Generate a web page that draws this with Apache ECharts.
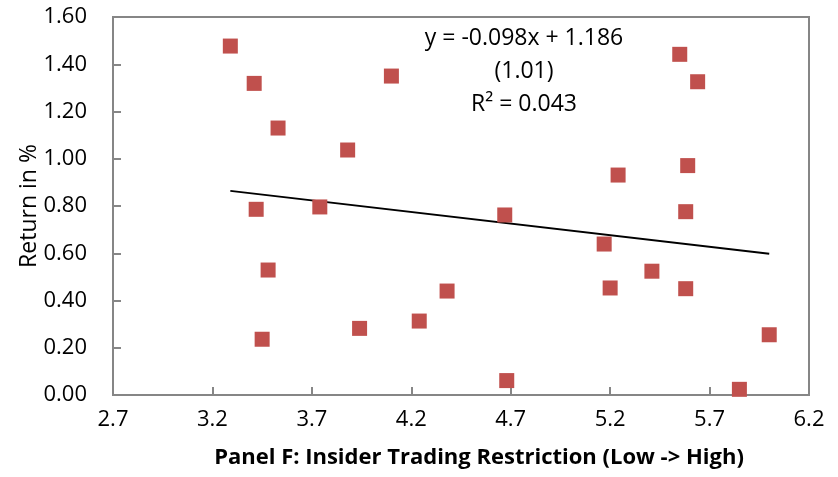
<!DOCTYPE html>
<html>
<head>
<meta charset="utf-8">
<script src="https://cdn.jsdelivr.net/npm/echarts@6/dist/echarts.min.js"></script>
<style>
  html, body { margin: 0; padding: 0; background: #fff; }
  #chart { width: 838px; height: 477px; }
</style>
</head>
<body>
<div id="chart"></div>
<script>
// insider trading restriction score vs. return (%)
const restriction = [3.29, 3.41, 3.53, 3.88, 4.10, 3.42, 3.74, 5.55, 5.64, 5.59, 5.24, 5.58, 4.67,
  3.48, 3.45, 3.94, 4.24, 4.38, 4.68, 5.17, 5.20, 5.41, 5.58, 6.00, 5.85]
const returns = [1.477, 1.319, 1.130, 1.037, 1.350, 0.786, 0.796, 1.442, 1.326, 0.971, 0.931, 0.776, 0.762,
  0.529, 0.236, 0.282, 0.313, 0.440, 0.061, 0.639, 0.453, 0.524, 0.450, 0.255, 0.024]
// fitted line end points
const trendX = [3.29, 6.00]
const trendY = [0.864, 0.598]
const eqLines = ['y = -0.098x + 1.186', '(1.01)', 'R² = 0.043']

const chart = echarts.init(document.getElementById('chart'))
const axisGray = '#868686'
const font = '"Open Sans", sans-serif'

chart.setOption({
  animation: false,
  grid: { left: 113, right: 29, top: 17, bottom: 82 },
  xAxis: {
    type: 'value',
    min: 2.7,
    max: 6.2,
    interval: 0.5,
    name: 'Panel F: Insider Trading Restriction (Low -> High)',
    nameLocation: 'middle',
    nameGap: 52,
    nameTextStyle: { color: '#000', fontFamily: font, fontWeight: 'bold', fontSize: 22,
      padding: [0, 0, 0, 36] },
    axisLine: { show: true, lineStyle: { color: axisGray, width: 2 } },
    axisTick: { show: true, inside: true, length: 8, lineStyle: { color: axisGray, width: 2 } },
    axisLabel: { color: '#000', fontFamily: font, fontSize: 22, margin: 14,
      formatter: v => v.toFixed(1) },
    splitLine: { show: false }
  },
  yAxis: {
    type: 'value',
    min: 0,
    max: 1.6,
    interval: 0.2,
    name: 'Return in %',
    nameLocation: 'middle',
    nameGap: 72,
    nameMoveOverlap: false,
    nameTextStyle: { color: '#000', fontFamily: font, fontSize: 23 },
    axisLine: { show: true, lineStyle: { color: axisGray, width: 2 } },
    axisTick: { show: true, inside: true, length: 8, lineStyle: { color: axisGray, width: 2 } },
    axisLabel: { color: '#000', fontFamily: font, fontSize: 22, margin: 26,
      formatter: v => v.toFixed(2) },
    splitLine: { show: false }
  },
  graphic: [
    {
      type: 'rect',
      shape: { x: 113, y: 17, width: 696, height: 378 },
      style: { fill: 'none', stroke: axisGray, lineWidth: 2 },
      silent: true,
      z: 0
    },
    ...eqLines.map((t, i) => ({
      type: 'text',
      x: 524,
      y: 38 + i * 33,
      style: {
        text: t,
        align: 'center',
        verticalAlign: 'middle',
        fill: '#000',
        font: '23px "Open Sans", sans-serif'
      }
    }))
  ],
  series: [
    {
      type: 'line',
      data: trendX.map((x, i) => [x, trendY[i]]),
      symbol: 'none',
      lineStyle: { color: '#000', width: 2 },
      z: 1
    },
    {
      type: 'scatter',
      data: restriction.map((x, i) => [x, returns[i]]),
      symbol: 'rect',
      symbolSize: 15,
      itemStyle: { color: '#C0504D', opacity: 1 },
      z: 2
    }
  ]
})
</script>
</body>
</html>
